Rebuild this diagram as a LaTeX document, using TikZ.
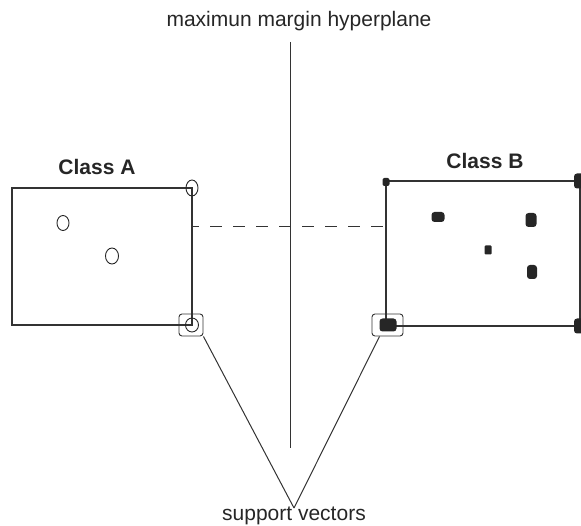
\documentclass[tikz,border=0pt]{standalone}
\usepackage{fontspec}
\setmainfont{Liberation Sans}
\usepackage{xcolor}
\usetikzlibrary{positioning, calc, shapes.geometric}

\begin{document}
\begin{tikzpicture}[x=1pt, y=-1pt,
  every node/.style={inner sep=0pt, font=\fontsize{21}{25}\selectfont, text=black!85},
  classbox/.style={draw=black!80, line width=1.2pt, rectangle},
  openpt/.style={draw=black!85, line width=0.9pt, ellipse, minimum width=12, minimum height=15},
  fillpt/.style={fill=black!85, rectangle, rounded corners=3pt},
  svbox/.style={draw=black!80, line width=0.9pt, rectangle, rounded corners=3pt},
  thin line/.style={draw=black!80, line width=1pt}]
\useasboundingbox (0,0) rectangle (581,526);

% the two classes
\node[classbox, minimum width=180, minimum height=137] (boxA) at (102,256.5) {};
\node[classbox, minimum width=194, minimum height=145] (boxB) at (483,253.5) {};
\node[anchor=base, font=\fontsize{21}{25}\selectfont\bfseries] (labelA) at (97,175) {Class A};
\node[anchor=base, font=\fontsize{21}{25}\selectfont\bfseries] (labelB) at (485,169) {Class B};

% class A points
\node[openpt] (a1) at (63,223) {};
\node[openpt, minimum width=13, minimum height=16] (a2) at (112,256) {};
\node[openpt, minimum height=16] (a3) at (192,188) {};
\node[openpt, minimum width=13, minimum height=14] (a4) at (192,325) {};

% class B points
\node[fillpt, rounded corners=2pt, minimum width=7, minimum height=8] (b1) at (386,182) {};
\node[fillpt, minimum width=12, minimum height=15] (b2) at (580,181) {};
\node[fillpt, minimum width=12, minimum height=15] (b3) at (580,326) {};
\node[fillpt, minimum width=17, minimum height=13] (b4) at (388,325) {};
\node[fillpt, minimum width=13, minimum height=10] (b5) at (438,217) {};
\node[fillpt, minimum width=11, minimum height=14] (b6) at (531,220) {};
\node[fillpt, rounded corners=1pt, minimum width=7, minimum height=9] (b7) at (488,250) {};
\node[fillpt, minimum width=10, minimum height=14] (b8) at (532,272) {};

% support vectors
\node[svbox, minimum width=24, minimum height=22] (svA) at (191,325) {};
\node[svbox, minimum width=31, minimum height=22] (svB) at (387.5,325) {};

% hyperplane and margin
\coordinate (top) at (290,42);
\coordinate (bottom) at (290,448);
\draw[thin line] (top) -- (bottom);
\node[anchor=base] (title) at (299,27) {maximun margin hyperplane};

\coordinate (gapA) at (193,227);
\coordinate (gapB) at (385,227);
\draw[thin line, dash pattern=on 12pt off 11pt, dash phase=6pt] (gapA) -- (gapB);

\coordinate (apex) at (294,508);
\draw[thin line] (svA.south east) -- (apex);
\draw[thin line] ($(svB.south)!0.5!(svB.south west)$) -- (apex);
\node[anchor=base] (sv) at (294,520) {support vectors};
\end{tikzpicture}
\end{document}
